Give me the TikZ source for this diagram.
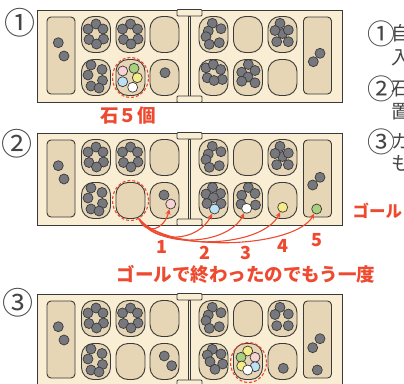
\documentclass[tikz,border=0pt]{standalone}
\usepackage{fontspec}
\newfontfamily\jp{Noto Sans CJK JP}
\usetikzlibrary{arrows.meta,shapes.geometric}

\definecolor{boardfill}{HTML}{F9EED3}
\definecolor{pitfill}{HTML}{E6D6B6}
\definecolor{ink}{HTML}{3A3A3A}
\definecolor{stonegray}{HTML}{77787D}
\definecolor{hint}{HTML}{EE4A30}
\definecolor{txt}{HTML}{454545}
\definecolor{gpink}{HTML}{F8D2D2}
\definecolor{ggreen}{HTML}{A9D07E}
\definecolor{gblue}{HTML}{BCE0F4}
\definecolor{gyellow}{HTML}{F6EC86}
\definecolor{gwhite}{HTML}{FFFFFF}

\tikzset{
  board/.style={fill=boardfill, draw=ink, line width=0.9pt},
  pit/.style={rectangle, rounded corners=12pt, minimum width=29pt, minimum height=36pt,
    inner sep=0pt, fill=pitfill, draw=ink, line width=0.9pt},
  store/.style={rectangle, rounded corners=4pt, minimum width=28pt, minimum height=77pt,
    inner sep=0pt, fill=pitfill, draw=ink, line width=0.9pt},
  stone/.style={fill=stonegray, draw=ink, line width=0.7pt},
  gem/.style={circle, minimum size=10pt, inner sep=0pt, draw=ink, line width=0.7pt},
  hilite/.style={ellipse, draw=hint, dash pattern=on 3pt off 2pt, line width=1.1pt,
    minimum width=36pt, minimum height=40pt, inner sep=0pt},
  jump/.style={draw=hint, line width=1.1pt, -{Stealth[length=5.5pt,width=5pt]}},
  tag/.style={text=hint, inner sep=0pt, font=\jp\bfseries\fontsize{18.5}{20}\selectfont},
  num/.style={text=hint, inner sep=0pt, font=\jp\bfseries\fontsize{18}{20}\selectfont},
  note/.style={text=txt, inner sep=0pt, anchor=west, font=\jp\fontsize{19}{22}\selectfont},
  note number/.style={text=txt, inner sep=0pt, font=\jp\fontsize{28}{30}\selectfont},
  step number/.style={text=txt, inner sep=0pt, font=\jp\fontsize{31}{33}\selectfont},
}

% board frame, stores, pits and hinge; #1 is the name prefix
\newcommand\mboard[1]{%
  \draw[board] (37,10) rectangle (342,102);
  \node[store] (#1L) at (61,55.5) {};
  \node[store] (#1R) at (317.5,55.5) {};
  \foreach \c/\x in {1/96,2/130.5,3/164.5,4/213.5,5/248,6/282.5}{
    \node[pit] (#1t\c) at (\x,34.5) {};
    \node[pit] (#1u\c) at (\x,77.5) {};
  }
  \draw[board, line width=0.7pt] (188.2,16) rectangle (190.8,96);
  \draw[board, rounded corners=1pt] (177,9.5) rectangle (202,16);
  \draw[board, rounded corners=1pt] (177,96) rectangle (202,102.5);
}
% gray stones around a centre: #1,#2 centre, #3 list of offsets
\newcommand\pile[3]{%
  \edef\pilelist{#3}%
  \foreach \dx/\dy in \pilelist \draw[stone] ({#1+\dx},{#2+\dy}) circle (5);
}
\newcommand\ringoffs{0/-10.5,-8/-5.5,7/-5.5,-7/5,7.5/4.5,0.5/9.5}
\newcommand\lowoffs{-5/-12.5,6/-8,-8/-2.5,6.5/3,-5/8.5,3/10.5}
\newcommand\upfouroffs{-1.2/-11.2,7.5/-5.8,-5.2/-3.5,-7.5/2.2,-4.2/9.8,5.8/8.2}
\newcommand\upsixoffs{0/-1,-2.5/-11.2,-7.5/-4,5.8/-4.5,-5.8/7.2,5.8/7.2}

\begin{document}
\begin{tikzpicture}[x=1pt,y=-1pt]
\useasboundingbox (0,0) rectangle (404,383);
\clip (0,0) rectangle (404,383);

% ---------- step 1 ----------
\node[step number] (s1) at (19.7,22.5) {①};
\begin{scope}
  \mboard{A}
  \pile{0}{0}{58.3/42.7,64/56}
  \pile{96}{34.5}{\ringoffs}
  \pile{130.5}{34.5}{\ringoffs}
  \pile{96}{77.5}{\lowoffs}
  \node[gem, fill=gpink]   (a1) at (122.7,71) {};
  \node[gem, fill=ggreen]  (a2) at (134,68.3) {};
  \node[gem, fill=gblue]   (a3) at (122.7,81.7) {};
  \node[gem, fill=gyellow] (a4) at (137.3,77.7) {};
  \node[gem, fill=gwhite]  (a5) at (132.7,87.3) {};
  \node[hilite] (Asel) at (130.5,77.5) {};
  \pile{0}{0}{165/72.7}
  \pile{213.5}{34.5}{\upfouroffs}
  \pile{282.5}{34.5}{\upsixoffs}
  \pile{213.5}{77.5}{-7.5/-9.7,-0.2/-13,7.2/-8,-6.2/0.3,8.8/2,0.5/3}
  \pile{248}{77.5}{0.3/-13,-6.3/-5.3,7/-7,0/-0.5,-6.3/3.7,7/5.3}
  \pile{0}{0}{320/53.3,313.3/61.7}
\end{scope}
\node[tag] (count) at (128,115) {石５個};

% ---------- step 2 ----------
\node[step number] (s2) at (17,144) {②};
\begin{scope}[shift={(0,123)}]
  \mboard{B}
  \pile{0}{0}{58.3/42.7,64/56}
  \pile{96}{34.5}{\ringoffs}
  \pile{130.5}{34.5}{\ringoffs}
  \pile{96}{77.5}{\lowoffs}
  \node[hilite] (Bsel) at (130.5,77.5) {};
  \pile{0}{0}{164/72}
  \node[gem, fill=gpink] (p1) at (170.7,81) {};
  \pile{213.5}{34.5}{\upfouroffs}
  \pile{282.5}{34.5}{\upsixoffs}
  \pile{213.5}{77.5}{-1/-13,-7.5/-6.5,7/-7,0/-3,-6.5/3,7.5/3}
  \node[gem, fill=gblue] (p2) at (214.5,86) {};
  \pile{248}{77.5}{0.3/-13,-6.3/-5.3,7/-7,-7/3.7,7.5/4.5}
  \node[gem, fill=gwhite] (p3) at (246.7,85.3) {};
  \node[gem, fill=gyellow] (p4) at (282.7,84.3) {};
  \pile{0}{0}{320/54.3,312.7/62}
  \node[gem, fill=ggreen] (p5) at (316.7,86) {};
\end{scope}

% sowing path of the five stones
\draw[jump] (Bsel.-65) .. controls (146,236) and (164,230) .. (p1);
\draw[jump] (Bsel.-65) .. controls (155,245) and (198,242) .. (p2);
\draw[jump] (Bsel.-65) .. controls (160,250) and (228,245) .. (p3);
\draw[jump] (Bsel.-65) .. controls (165,252) and (262,248) .. (p4);
\draw[jump] (Bsel.-65) .. controls (168,254) and (295,248) .. (p5);
\node[num] (n1) at (161.7,246.5) {1};
\node[num] (n2) at (205,253) {2};
\node[num] (n3) at (245.7,252.5) {3};
\node[num] (n4) at (282.7,246) {4};
\node[num] (n5) at (316.7,240) {5};
\node[tag, anchor=west, font=\jp\bfseries\fontsize{16.5}{18}\selectfont] (goal) at (352.5,211) {ゴール};
\node[tag] (again) at (246,274) {ゴールで終わったのでもう一度};

% ---------- step 3 ----------
\node[step number] (s3) at (17.5,303) {③};
\begin{scope}[shift={(0,284)}]
  \mboard{C}
  \pile{0}{0}{58.3/42.7,64/56}
  \pile{96}{34.5}{\ringoffs}
  \pile{130.5}{34.5}{\ringoffs}
  \pile{96}{77.5}{\lowoffs}
  \pile{0}{0}{164.3/72,171.7/81.7}
  \pile{213.5}{34.5}{\upfouroffs}
  \pile{282.5}{34.5}{-2.5/-11.2,-7.5/-4,5.8/-4.5,-5.8/7.2,5.8/7.2}
  \pile{213.5}{77.5}{-1.2/-12.2,7.5/-7.5,-6.2/-6.5,-3.5/0.2,9.2/2.5,1.5/7.8}
  \node[gem, fill=gyellow] (c1) at (247.7,67) {};
  \node[gem, fill=ggreen]  (c2) at (241,73.3) {};
  \node[gem, fill=gpink]   (c3) at (255,73.3) {};
  \node[gem, fill=gyellow] (c4) at (241.7,82) {};
  \node[gem, fill=gblue]   (c5) at (255,82.7) {};
  \node[gem, fill=gwhite]  (c6) at (247.7,86) {};
  \node[hilite] (Csel) at (248.5,78.5) {};
  \pile{0}{0}{283.3/84.3}
  \pile{0}{0}{320/54.7,312.7/63.7,317.3/86}
\end{scope}

% ---------- rules ----------
\node[note number] (r1n) at (381,33.5) {①};
\node[note] (r1a) at (391,33.5) {自};
\node[note] (r1b) at (391,58) {入};
\node[note number] (r2n) at (381,89) {②};
\node[note] (r2a) at (391,89) {石};
\node[note] (r2b) at (391,112) {置};
\node[note number] (r3n) at (381,141.5) {③};
\node[note] (r3a) at (391,141.5) {カ};
\node[note] (r3b) at (391,163.5) {も};
\end{tikzpicture}
\end{document}
